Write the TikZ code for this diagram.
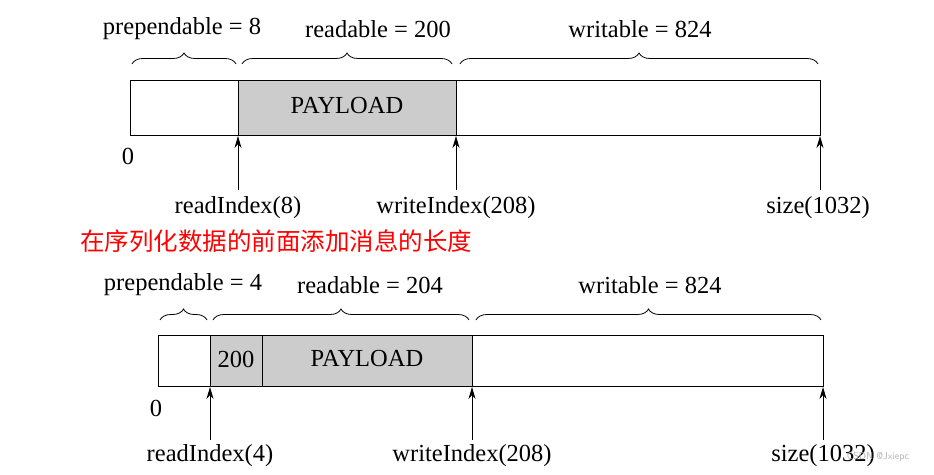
\documentclass[tikz,border=0pt]{standalone}
\usepackage{fontspec}
\setmainfont{Liberation Serif}
\newfontfamily\cjk{Noto Sans CJK SC}
\usetikzlibrary{decorations.pathreplacing,arrows.meta}
\begin{document}
\begin{tikzpicture}[x=1pt,y=-1pt,
  br/.style={decorate,decoration={brace,amplitude=11pt},line width=0.8pt},
  arr/.style={-{Stealth[length=12pt,width=7pt]},line width=0.8pt},
  lbl/.style={font=\fontsize{24.5}{26}\selectfont,inner sep=0pt}]
\useasboundingbox (0,0) rectangle (934,474);
% top
\fill[gray!40] (238,80) rectangle (456,135);
\draw[line width=0.8pt] (130,80) rectangle (820,135);
\draw[line width=0.8pt] (238,80) -- (238,135) (456,80) -- (456,135);
\node[lbl] (pl1) at (347,106) {PAYLOAD};
\node[lbl] (z1) at (128,156) {0};
\draw[br] (132,64) -- (236,64);
\draw[br] (242,64) -- (452,64);
\draw[br] (460,64) -- (818,64);
\node[lbl] (p1) at (182,29) {prependable = 8};
\node[lbl] (r1) at (378,29) {readable = 200};
\node[lbl] (w1) at (640,29) {writable = 824};
\coordinate (t1a) at (238,190); \coordinate (h1a) at (238,136);
\coordinate (t1b) at (456,190); \coordinate (h1b) at (456,136);
\coordinate (t1c) at (820,190); \coordinate (h1c) at (820,136);
\draw[arr] (t1a) -- (h1a); \draw[arr] (t1b) -- (h1b); \draw[arr] (t1c) -- (h1c);
\node[lbl] (ri1) at (238,208) {readIndex(8)};
\node[lbl] (wi1) at (456,208) {writeIndex(208)};
\node[lbl] (s1) at (818,208) {size(1032)};
\node[anchor=west,inner sep=0pt,text=red,font=\cjk\fontsize{24.5}{26}\selectfont] (cn) at (80,241) {在序列化数据的前面添加消息的长度};
% bottom
\fill[gray!40] (210,335) rectangle (472,386);
\draw[line width=0.8pt] (158,335) rectangle (823,386);
\draw[line width=0.8pt] (210,335) -- (210,386) (262,335) -- (262,386) (472,335) -- (472,386);
\node[lbl] (n200) at (236,359) {200};
\node[lbl] (pl2) at (367,359) {PAYLOAD};
\node[lbl] (z2) at (156,408) {0};
\draw[br] (160,320) -- (207,320);
\draw[br] (213,320) -- (469,320);
\draw[br] (476,320) -- (821,320);
\node[lbl] (p2) at (183,285) {prependable = 4};
\node[lbl] (r2) at (370,285) {readable = 204};
\node[lbl] (w2) at (650,285) {writable = 824};
\coordinate (t2a) at (210,440); \coordinate (h2a) at (210,387);
\coordinate (t2b) at (472,440); \coordinate (h2b) at (472,387);
\coordinate (t2c) at (823,440); \coordinate (h2c) at (823,387);
\draw[arr] (t2a) -- (h2a); \draw[arr] (t2b) -- (h2b); \draw[arr] (t2c) -- (h2c);
\node[lbl] (ri2) at (210,456) {readIndex(4)};
\node[lbl] (wi2) at (472,456) {writeIndex(208)};
\node[lbl] (s2) at (823,456) {size(1032)};
\node[text=gray!60,font=\sffamily\fontsize{10}{12}\selectfont,inner sep=0pt] (wm) at (878,457) {CSDN @Jxiepc};
\end{tikzpicture}
\end{document}
